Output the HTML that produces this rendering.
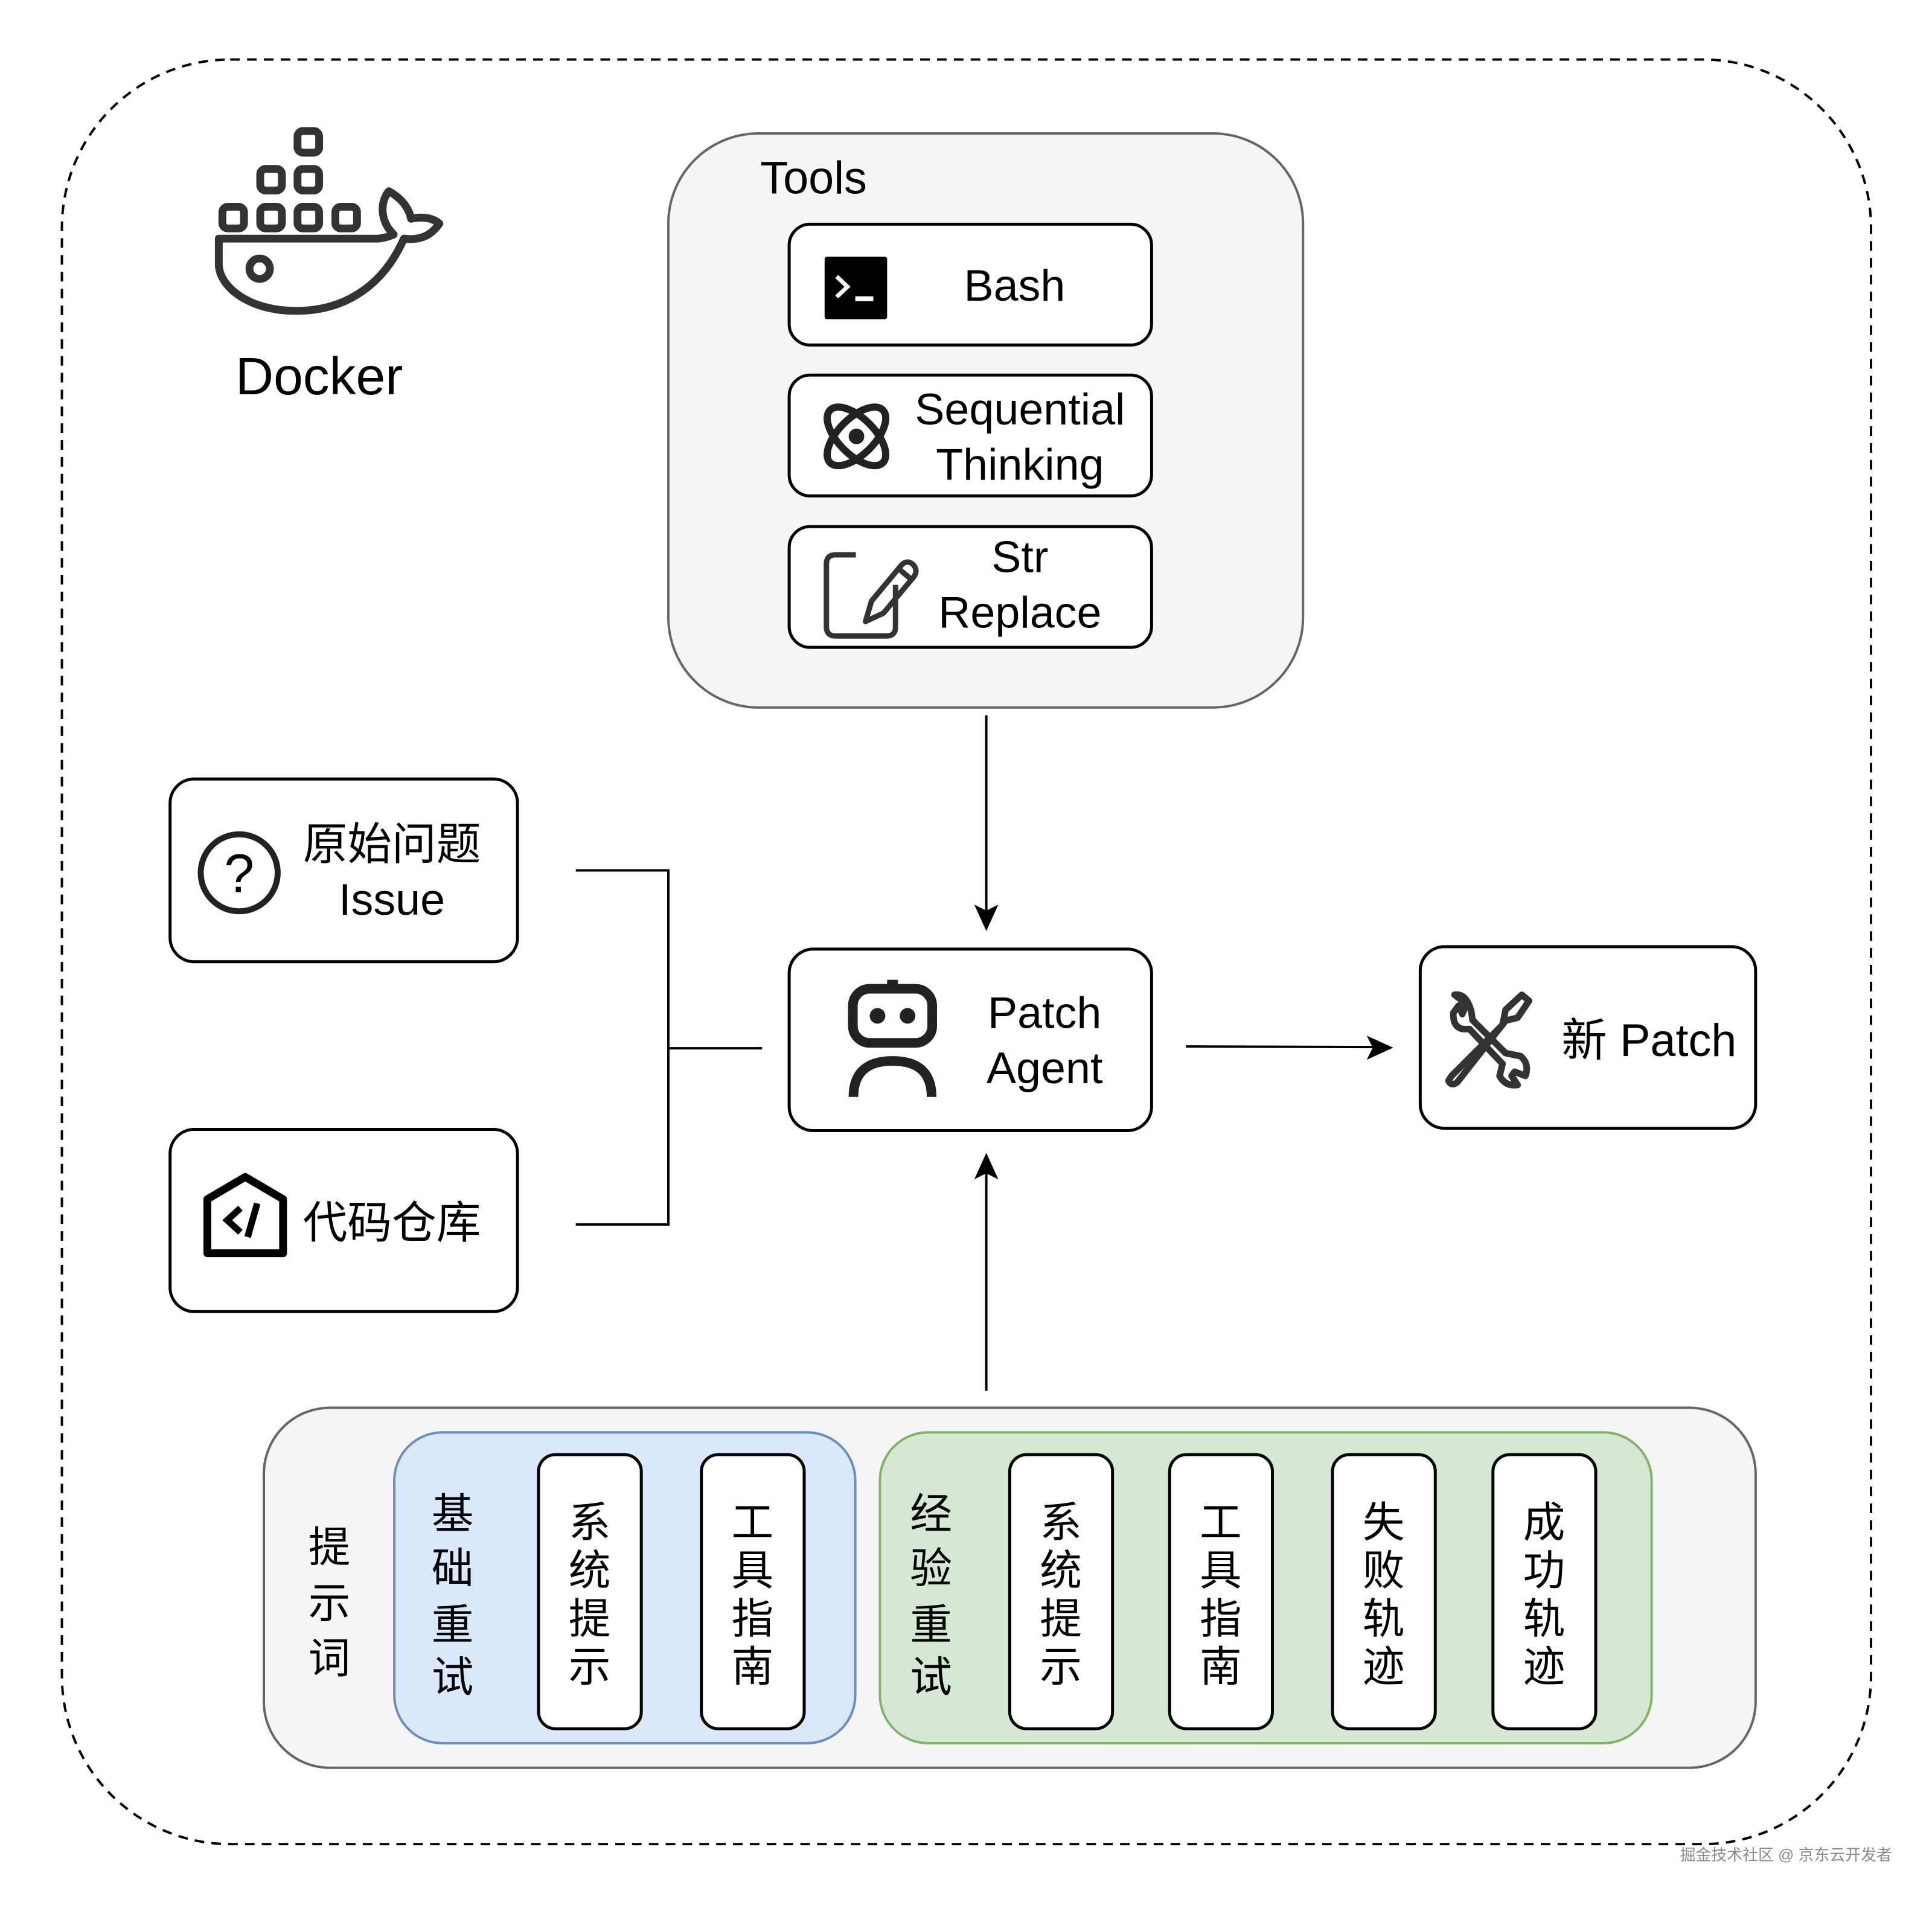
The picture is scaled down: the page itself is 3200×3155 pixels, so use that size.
<!DOCTYPE html>
<html><head><meta charset="utf-8"><style>
html,body{margin:0;padding:0;background:#fff;}
svg{display:block;}
text{font-family:"Liberation Sans","Noto Sans CJK SC",sans-serif;fill:#000;}
</style></head><body>
<svg width="3200" height="3155" viewBox="0 0 3200 3155" xmlns="http://www.w3.org/2000/svg">
<g transform="scale(0.9955)">
<!-- outer dashed -->
<rect x="103" y="99" width="3010" height="2969" rx="280" fill="none" stroke="#000" stroke-width="4" stroke-dasharray="16 12"/>

<!-- Docker icon -->
<g fill="none" stroke="#333" stroke-width="13" stroke-linejoin="round">
<rect x="495" y="218" width="36" height="36" rx="9"/>
<rect x="433" y="281" width="36" height="36" rx="9"/>
<rect x="495" y="281" width="36" height="36" rx="9"/>
<rect x="370" y="344" width="36" height="36" rx="9"/>
<rect x="433" y="344" width="36" height="36" rx="9"/>
<rect x="495" y="344" width="36" height="36" rx="9"/>
<rect x="558" y="344" width="36" height="36" rx="9"/>
<path d="M364 397 L630 397 Q645 395 655 390 C632 368 632 336 647 318 C668 330 680 345 684 364 C706 359 722 364 731 372 C715 395 695 400 672 397 C640 470 580 515 500 517 C420 520 365 480 364 440 Z"/>
<circle cx="432" cy="447" r="17"/>
</g>
<text x="531" y="656" font-size="88" text-anchor="middle">Docker</text>

<!-- Tools container -->
<rect x="1112" y="222" width="1056" height="955" rx="150" fill="#f5f5f5" stroke="#666" stroke-width="4"/>
<text x="1265" y="322" font-size="76">Tools</text>
<rect x="1313" y="373" width="603" height="201" rx="35" fill="#fff" stroke="#000" stroke-width="5"/>
<rect x="1313" y="624" width="603" height="201" rx="35" fill="#fff" stroke="#000" stroke-width="5"/>
<rect x="1313" y="876" width="603" height="201" rx="35" fill="#fff" stroke="#000" stroke-width="5"/>
<!-- bash icon -->
<rect x="1372" y="427" width="104" height="104" rx="4" fill="#000"/>
<path d="M1392 460 L1410 477 L1392 494" fill="none" stroke="#fff" stroke-width="7"/>
<rect x="1423" y="493" width="30" height="8" fill="#fff"/>
<text x="1688" y="500" font-size="74" text-anchor="middle">Bash</text>
<!-- atom -->
<g fill="none" stroke="#222" stroke-width="12">
<ellipse cx="1425" cy="726" rx="62" ry="30" transform="rotate(45 1425 726)"/>
<ellipse cx="1425" cy="726" rx="62" ry="30" transform="rotate(-45 1425 726)"/>
</g>
<circle cx="1425" cy="726" r="13" fill="#222"/>
<text x="1697" y="706" font-size="74" text-anchor="middle">Sequential</text>
<text x="1697" y="798" font-size="74" text-anchor="middle">Thinking</text>
<!-- edit icon -->
<g fill="none" stroke="#333" stroke-width="9" stroke-linejoin="round">
<path d="M1424 923 L1390 923 Q1375 923 1375 938 L1375 1043 Q1375 1058 1390 1058 L1475 1058 Q1490 1058 1490 1043 L1490 973"/>
<path d="M1440 1034 L1450 1000 L1500 940 Q1510 930 1520 940 Q1528 950 1520 960 L1470 1020 Z"/>
<path d="M1495 946 L1514 962"/>
</g>
<text x="1697" y="952" font-size="74" text-anchor="middle">Str</text>
<text x="1697" y="1044" font-size="74" text-anchor="middle">Replace</text>

<!-- Issue -->
<rect x="283" y="1296" width="578" height="304" rx="40" fill="#fff" stroke="#000" stroke-width="5"/>
<circle cx="398" cy="1452" r="64" fill="none" stroke="#222" stroke-width="10"/>
<text x="398" y="1484" font-size="90" text-anchor="middle" fill="#222">?</text>
<text x="652" y="1430" font-size="74" text-anchor="middle">原始问题</text>
<text x="652" y="1522" font-size="74" text-anchor="middle">Issue</text>

<!-- Repo -->
<rect x="283" y="1879" width="578" height="303" rx="40" fill="#fff" stroke="#000" stroke-width="5"/>
<path d="M345 2085 L345 1995 L408 1958 L471 1995 L471 2085 Z" fill="none" stroke="#000" stroke-width="13" stroke-linejoin="round"/>
<path d="M400 2010 L378 2030 L400 2050 M428 2002 L412 2058" fill="none" stroke="#000" stroke-width="11"/>
<text x="652" y="2060" font-size="74" text-anchor="middle">代码仓库</text>

<!-- connectors -->
<path d="M958 1448 L1112 1448 L1112 2037 L958 2037 M1112 1744 L1268 1744" fill="none" stroke="#000" stroke-width="4"/>
<line x1="1641" y1="1190" x2="1641" y2="1515" stroke="#000" stroke-width="4"/>
<path d="M1641 1549 L1621 1505 L1641 1515 L1661 1505 Z" fill="#000"/>
<line x1="1973" y1="1741" x2="2290" y2="1742" stroke="#000" stroke-width="4"/>
<path d="M2318 1743 L2274 1723 L2284 1743 L2274 1763 Z" fill="#000"/>
<line x1="1641" y1="2314" x2="1641" y2="1950" stroke="#000" stroke-width="4"/>
<path d="M1641 1918 L1621 1962 L1641 1952 L1661 1962 Z" fill="#000"/>

<!-- Patch Agent -->
<rect x="1313" y="1579" width="603" height="302" rx="40" fill="#fff" stroke="#000" stroke-width="5"/>
<rect x="1419" y="1645" width="132" height="90" rx="28" fill="none" stroke="#222" stroke-width="16"/>
<circle cx="1460" cy="1690" r="13" fill="#222"/>
<circle cx="1510" cy="1690" r="13" fill="#222"/>
<rect x="1476" y="1630" width="18" height="18" fill="#222"/>
<path d="M1420 1825 Q1420 1765 1485 1765 Q1550 1765 1550 1825" fill="none" stroke="#222" stroke-width="16"/>
<text x="1738" y="1710" font-size="74" text-anchor="middle">Patch</text>
<text x="1738" y="1802" font-size="74" text-anchor="middle">Agent</text>

<!-- New Patch -->
<rect x="2363" y="1575" width="558" height="302" rx="40" fill="#fff" stroke="#000" stroke-width="5"/>
<g fill="none" stroke="#333" stroke-width="11" stroke-linejoin="round">
<path d="M2427 1673 L2418 1685 Q2417 1710 2435 1712 L2445 1712 L2500 1770 L2495 1790 Q2505 1808 2525 1805 L2515 1790 L2520 1783 L2538 1790 Q2545 1770 2530 1757 L2505 1752 L2450 1697 L2448 1683 Q2440 1652 2420 1655 L2440 1670 L2433 1687 Z"/>
<path d="M2415 1790 L2500 1705 L2505 1680 L2532 1655 L2544 1665 L2525 1693 L2505 1698 L2425 1800 Q2415 1808 2410 1798 Z"/>
</g>
<text x="2598" y="1757" font-size="76">新 Patch</text>

<!-- prompt container -->
<rect x="439" y="2342" width="2482" height="599" rx="110" fill="#f5f5f5" stroke="#666" stroke-width="4"/>
<g font-size="70" text-anchor="middle" dominant-baseline="central">
<text x="548" y="2574">提</text><text x="548" y="2667">示</text><text x="548" y="2759">词</text>
</g>
<rect x="656" y="2383" width="767" height="517" rx="80" fill="#dae8fc" stroke="#6c8ebf" stroke-width="4"/>
<rect x="1464" y="2383" width="1284" height="517" rx="80" fill="#d5e8d4" stroke="#82b366" stroke-width="4"/>
<g font-size="70" text-anchor="middle" dominant-baseline="central">
<text x="753" y="2519">基</text><text x="753" y="2609">础</text><text x="753" y="2703">重</text><text x="753" y="2790">试</text>
<text x="1549" y="2519">经</text><text x="1549" y="2609">验</text><text x="1549" y="2703">重</text><text x="1549" y="2790">试</text>
</g>
<g fill="#fff" stroke="#000" stroke-width="5">
<rect x="896" y="2420" width="171" height="456" rx="28"/>
<rect x="1167" y="2420" width="171" height="456" rx="28"/>
<rect x="1680" y="2420" width="171" height="456" rx="28"/>
<rect x="1946" y="2420" width="171" height="456" rx="28"/>
<rect x="2217" y="2420" width="171" height="456" rx="28"/>
<rect x="2484" y="2420" width="171" height="456" rx="28"/>
</g>
<g font-size="70" text-anchor="middle" dominant-baseline="central">
<text x="981" y="2533">系</text><text x="981" y="2613">统</text><text x="981" y="2693">提</text><text x="981" y="2773">示</text>
<text x="1252" y="2533">工</text><text x="1252" y="2613">具</text><text x="1252" y="2693">指</text><text x="1252" y="2773">南</text>
<text x="1765" y="2533">系</text><text x="1765" y="2613">统</text><text x="1765" y="2693">提</text><text x="1765" y="2773">示</text>
<text x="2031" y="2533">工</text><text x="2031" y="2613">具</text><text x="2031" y="2693">指</text><text x="2031" y="2773">南</text>
<text x="2302" y="2533">失</text><text x="2302" y="2613">败</text><text x="2302" y="2693">轨</text><text x="2302" y="2773">迹</text>
<text x="2569" y="2533">成</text><text x="2569" y="2613">功</text><text x="2569" y="2693">轨</text><text x="2569" y="2773">迹</text>
</g>

<text x="3148" y="3095" font-size="26" text-anchor="end" style="fill:#888">掘金技术社区 @ 京东云开发者</text>
</g>
</svg>
</body></html>
